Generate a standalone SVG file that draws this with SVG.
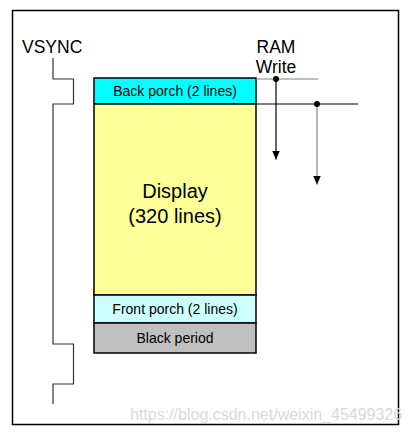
<svg xmlns="http://www.w3.org/2000/svg" width="411" height="432" viewBox="0 0 411 432">
<defs>
<style>
text{font-family:"Liberation Sans",Arial,sans-serif;fill:#000}
.box{stroke:#000;stroke-width:1.5}
.lbl{font-size:14px;text-anchor:middle}
.sig{font-size:17.5px}
.wave{fill:none;stroke:#333;stroke-width:1.2}
</style>
<marker id="ah" viewBox="0 0 9 8" markerWidth="9" markerHeight="8" refX="9" refY="4" orient="auto" markerUnits="userSpaceOnUse">
<path d="M0,0 L9,4 L0,8 Z" fill="#000"/>
</marker>
</defs>
<rect x="0" y="0" width="411" height="432" fill="#fff"/>
<rect id="frame" x="12.5" y="10.5" width="386" height="414" fill="none" stroke="#000" stroke-width="1.5"/>
<g id="vsync">
<text class="sig" x="22" y="53">VSYNC</text>
<path class="wave" d="M53,58 V79 H73.5 V104 H53 V344 H73.5 V384 H53 V404"/>
</g>
<g id="back-porch">
<rect class="box" x="94" y="78" width="162" height="26" fill="#00FFFF"/>
<text class="lbl" x="175" y="96">Back porch (2 lines)</text>
</g>
<g id="display">
<rect class="box" x="94" y="104" width="162" height="191" fill="#FFFF99"/>
<text x="175" y="198" font-size="20" text-anchor="middle">Display</text>
<text x="175" y="223" font-size="20" text-anchor="middle">(320 lines)</text>
</g>
<g id="front-porch">
<rect class="box" x="94" y="295" width="162" height="28" fill="#CCFFFF"/>
<text class="lbl" x="175" y="313.5">Front porch (2 lines)</text>
</g>
<g id="black-period">
<rect class="box" x="94" y="323" width="162" height="30" fill="#C0C0C0"/>
<text class="lbl" x="175" y="343">Black period</text>
</g>
<g id="ram-write">
<text class="sig" x="276" y="53" text-anchor="middle">RAM</text>
<text class="sig" x="276" y="73" text-anchor="middle">Write</text>
</g>
<g id="connectors">
<line x1="256" y1="79" x2="318" y2="79" stroke="#808080" stroke-width="1.2"/>
<line x1="256" y1="104" x2="358" y2="104" stroke="#000" stroke-width="1.2"/>
<line x1="276" y1="79" x2="276" y2="159.5" stroke="#000" stroke-width="1.2" marker-end="url(#ah)"/>
<line x1="317" y1="104" x2="317" y2="184.5" stroke="#808080" stroke-width="1.2" marker-end="url(#ah)"/>
<circle cx="276" cy="79" r="3" fill="#000"/>
<circle cx="317" cy="104" r="3" fill="#000"/>
</g>
<text x="130" y="420" font-size="16" fill="#d9d9d9" style="fill:#d9d9d9">https://blog.csdn.net/weixin_45499326</text>
</svg>
